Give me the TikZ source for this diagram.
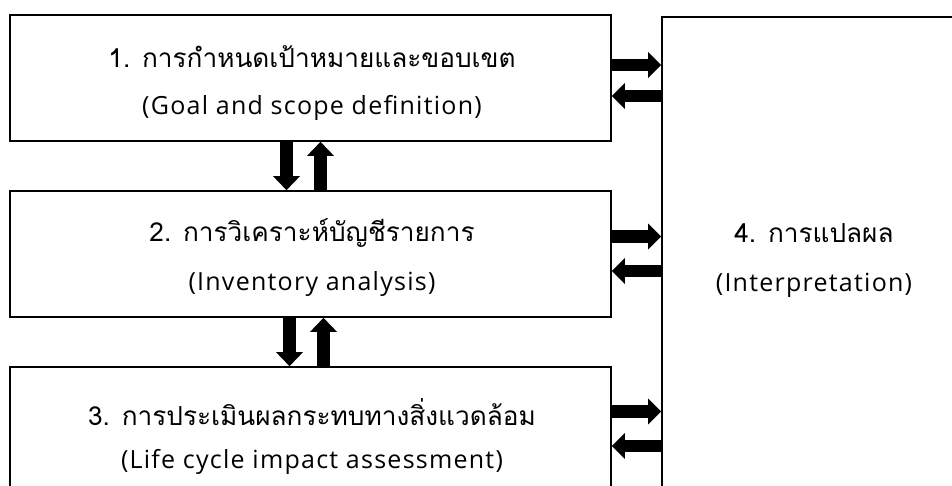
\documentclass[tikz,border=0pt]{standalone}
\usepackage{fontspec}
\setmainfont{Loma}[Script=Thai]
\newfontfamily\latinfont{Open Sans}[LetterSpace=5]
\usetikzlibrary{arrows.meta}
\begin{document}
\begin{tikzpicture}[x=1pt,y=-1pt,
  box/.style={draw, line width=1.6pt, inner sep=0pt},
  lbl/.style={inner sep=0pt, font=\fontsize{26.2}{28}\selectfont},
  lat/.style={inner sep=0pt, font=\latinfont\fontsize{25}{28}\selectfont},
  blkv/.style={line width=13pt, -{Triangle[width=26pt,length=14pt]}},
  blkh/.style={line width=12.5pt, -{Triangle[width=25pt,length=13pt]}}]
\useasboundingbox (0,0) rectangle (952,486);
\fill[white] (0,0) rectangle (952,486);
\clip (0,0) rectangle (952,486);
\node[box, minimum width=601pt, minimum height=126pt] (b1) at (310.5,78) {};
\node[box, minimum width=601pt, minimum height=126pt] (b2) at (310.5,254) {};
\node[box, minimum width=601pt, minimum height=132pt] (b3) at (310.5,433) {};
\node[box, minimum width=304pt, minimum height=483pt] (b4) at (814,258.5) {};
\node[lbl] (t1a) at (312,57) {1. การกำหนดเป้าหมายและขอบเขต};
\node[lat] (t1b) at (312,108) {(Goal and scope definition)};
\node[lbl] (t2a) at (312,233) {2. การวิเคราะห์บัญชีรายการ};
\node[lat] (t2b) at (312,284) {(Inventory analysis)};
\node[lbl] (t3a) at (312,412) {3. การประเมินผลกระทบทางสิ่งแวดล้อม};
\node[lat] (t3b) at (312,462) {(Life cycle impact assessment)};
\node[lbl] (t4a) at (814,233) {4. การแปลผล};
\node[lat] (t4b) at (814,285) {(Interpretation)};
% vertical arrows
\draw[blkv] ([xshift=-24pt]b1.south) -- ([xshift=-24pt]b2.north);
\draw[blkv] ([xshift=10pt]b2.north) -- ([xshift=10pt]b1.south);
\draw[blkv] ([xshift=-21pt]b2.south) -- ([xshift=-21pt]b3.north);
\draw[blkv] ([xshift=13pt]b3.north) -- ([xshift=13pt]b2.south);
% horizontal arrows
\foreach \b/\r/\l in {b1/65/96, b2/236.5/271, b3/411.5/446}{
  \draw[blkh] (\b.east |- 0,\r) -- (b4.west |- 0,\r);
  \draw[blkh] (b4.west |- 0,\l) -- (\b.east |- 0,\l);
}
\end{tikzpicture}
\end{document}
